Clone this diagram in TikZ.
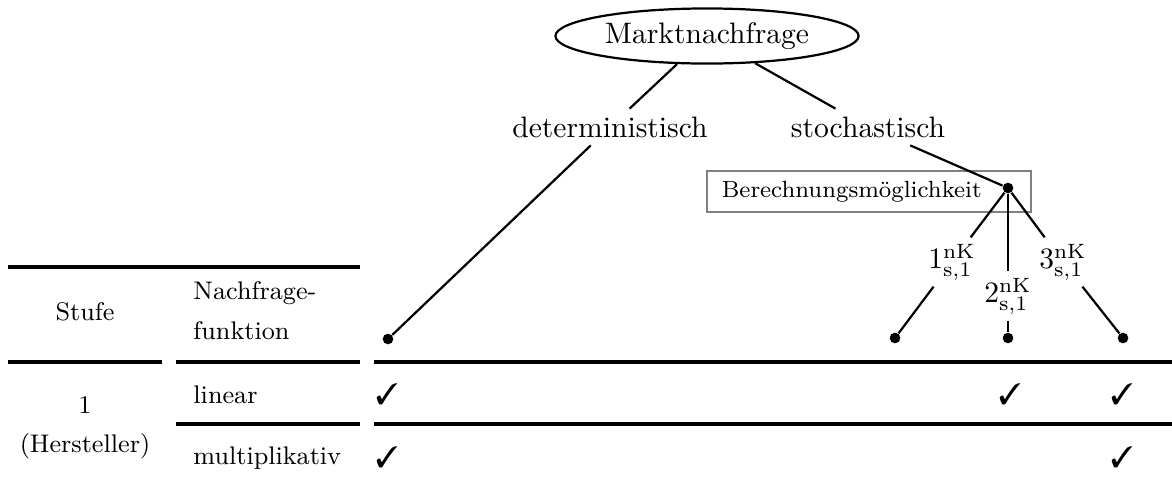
\documentclass[tikz,border=0pt]{standalone}
\usepackage{pifont}
\usetikzlibrary{shapes.geometric}
\begin{document}
\begin{tikzpicture}[x=0.3378pt,y=-0.3378pt,
  treeline/.style={line width=0.75pt},
  rule/.style={line width=1.1pt},
  dot/.style={circle,fill=black,inner sep=0pt,minimum size=3.6pt},
  lbl/.style={inner sep=2pt,font=\fontsize{10}{12}\selectfont},
  tab/.style={font=\fontsize{8.6}{13.5}\selectfont},
  chk/.style={font=\fontsize{10}{12}\selectfont}]
\useasboundingbox (0,0) rectangle (1172,477);
% tree
\node[ellipse,draw,line width=0.75pt,minimum width=102.4pt,minimum height=18.6pt,inner sep=0pt] (m) at (707,36) {Marktnachfrage};
\node[inner sep=2.5pt] (det) at (610,127) {deterministisch};
\node[inner sep=2.5pt] (sto) at (868,127) {stochastisch};
\node[draw=black!50,line width=0.7pt,minimum width=109.4pt,minimum height=11.8pt,inner xsep=5pt,text width=99.4pt,align=left,font=\fontsize{7.9}{10}\selectfont,anchor=center] (box) at (869,191.5) {Berechnungsm\"oglichkeit};
\node[dot] (b) at (1008,188) {};
\node[lbl] (l1) at (952,262) {$1^{\mathrm{nK}}_{\mathrm{s},1}$};
\node[lbl] (l2) at (1008,296) {$2^{\mathrm{nK}}_{\mathrm{s},1}$};
\node[lbl] (l3) at (1063,262) {$3^{\mathrm{nK}}_{\mathrm{s},1}$};
\node[dot] (d0) at (388,339) {};
\node[dot] (d1) at (895,338) {};
\node[dot] (d2) at (1008,338) {};
\node[dot] (d3) at (1123,338) {};
\draw[treeline] (m) -- (det);
\draw[treeline] (m) -- (sto);
\draw[treeline] (det) -- (d0);
\draw[treeline] (sto) -- (b);
\draw[treeline] (b) -- (l1);
\draw[treeline] (b) -- (l2);
\draw[treeline] (b) -- (l3);
\draw[treeline] (l1) -- (d1);
\draw[treeline] (l2) -- (d2);
\draw[treeline] (l3) -- (d3);
% table rules
\draw[rule] (8,267) -- (360,267);
\draw[rule] (8,362) -- (162,362);
\draw[rule] (176,362) -- (360,362);
\draw[rule] (374,362) -- (1172,362);
\draw[rule] (176,424) -- (360,424);
\draw[rule] (374,424) -- (1172,424);
% table text
\node[tab] (stufe) at (85,312) {Stufe};
\node[tab,anchor=west,align=left] (nf) at (183,311) {Nachfrage-\\funktion};
\node[tab] (one) at (85,425) {\begin{tabular}{@{}c@{}}1\\(Hersteller)\end{tabular}};
\node[tab,anchor=west] (lin) at (183,395) {linear};
\node[tab,anchor=west] (mult) at (183,458) {multiplikativ};
\node[chk] (c1) at (387,394) {\ding{51}};
\node[chk] (c2) at (1010,394) {\ding{51}};
\node[chk] (c3) at (1122,394) {\ding{51}};
\node[chk] (c4) at (387,457) {\ding{51}};
\node[chk] (c5) at (1122,457) {\ding{51}};
\end{tikzpicture}
\end{document}
